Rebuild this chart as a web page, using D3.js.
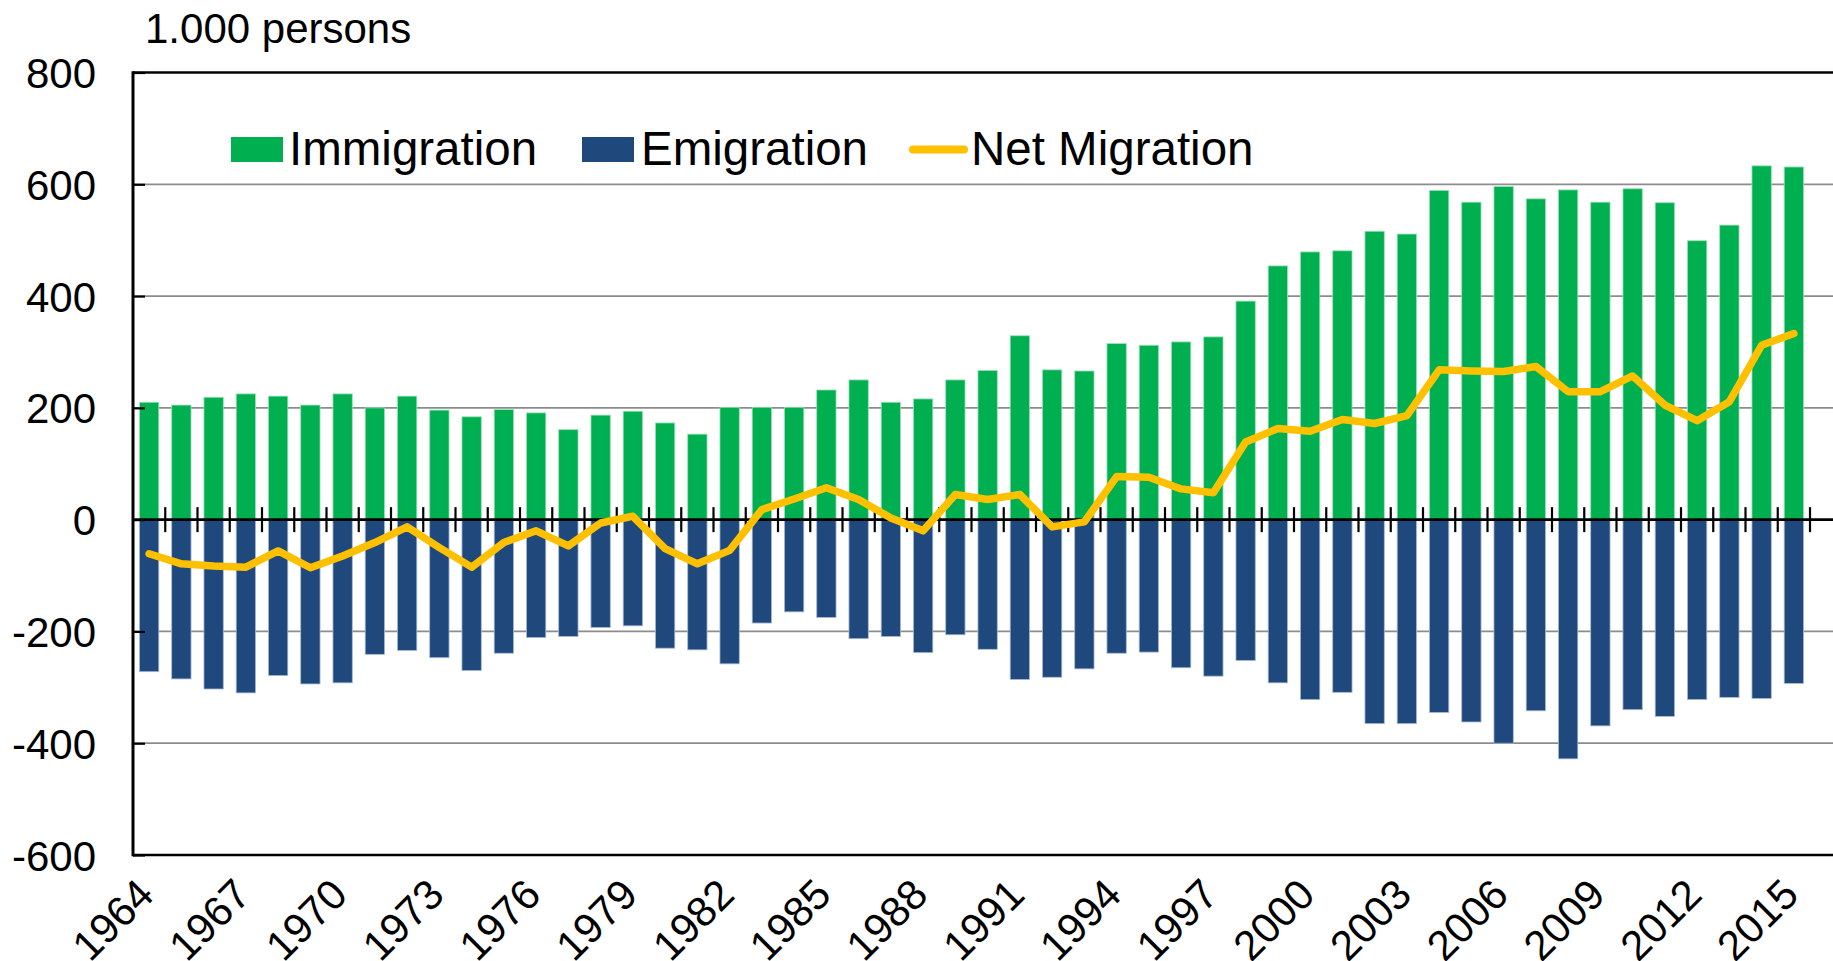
<!DOCTYPE html>
<html>
<head>
<meta charset="utf-8">
<script src="https://cdn.jsdelivr.net/npm/d3@7/dist/d3.min.js"></script>
<style>
body { margin: 0; background: #fff; }
text { font-family: "Liberation Sans", Arial, sans-serif; fill: #000; }
</style>
</head>
<body>
<div id="chart"></div>
<script>
var years = [1964,1965,1966,1967,1968,1969,1970,1971,1972,1973,1974,1975,1976,1977,1978,
  1979,1980,1981,1982,1983,1984,1985,1986,1987,1988,1989,1990,1991,1992,1993,1994,1995,1996,1997,
  1998,1999,2000,2001,2002,2003,2004,2005,2006,2007,2008,2009,2010,2011,2012,2013,2014,2015];

var immigration = [210,205,219,225,221,205,225,200,221,196,184,197,191,161,187,
  194,173,153,201,201,201,232,250,210,216,250,267,329,268,266,315,312,318,327,
  391,454,479,481,516,511,589,568,596,574,590,568,592,567,499,527,633,631];

var emigration = [-272,-285,-303,-310,-279,-294,-292,-241,-234,-247,-270,-239,-211,-209,-193,
  -190,-230,-233,-258,-185,-165,-175,-213,-209,-238,-206,-232,-286,-282,-267,-239,-237,-265,-280,
  -252,-292,-322,-309,-365,-365,-345,-362,-400,-342,-428,-369,-340,-352,-322,-318,-320,-293];

var netMigration = [-61,-79,-83,-85,-56,-86,-65,-41,-13,-50,-85,-41,-20,-47,-6,
  6,-52,-79,-55,18,37,57,36,3,-20,45,36,45,-13,-4,77,76,55,48,
  139,163,158,179,172,186,268,266,265,274,229,229,257,205,177,211,312,333];

var yTicks = [-600,-400,-200,0,200,400,600,800];
var xLabels = [1964,1967,1970,1973,1976,1979,1982,1985,1988,1991,1994,1997,2000,2003,2006,2009,2012,2015];

var W = 1833, H = 961;
var plotLeft = 133, plotRight = 1810, plotTop = 72.5, plotBottom = 855;

var svg = d3.select("#chart")
  .append("svg")
    .attr("width", W)
    .attr("height", H);

var x = d3.scaleBand()
  .domain(years)
  .range([plotLeft, plotRight])
  .paddingInner(0.4)
  .paddingOuter(0.2);

var y = d3.scaleLinear()
  .domain([-600, 800])
  .range([plotBottom, plotTop]);

// gridlines
svg.append("g")
  .selectAll("line")
  .data(yTicks.filter(function(d) { return d != 0 && d != 800 && d != -600; }))
  .enter().append("line")
    .attr("x1", plotLeft).attr("x2", W)
    .attr("y1", function(d) { return y(d); })
    .attr("y2", function(d) { return y(d); })
    .attr("stroke", "#8c8c8c")
    .attr("stroke-width", 1.7);

// bars
svg.append("g")
  .selectAll("rect")
  .data(years)
  .enter().append("rect")
    .attr("x", function(d) { return x(d); })
    .attr("width", x.bandwidth())
    .attr("y", function(d, i) { return y(immigration[i]); })
    .attr("height", function(d, i) { return y(0) - y(immigration[i]); })
    .attr("fill", "#00b050")
    .attr("stroke", "#9fe0bb")
    .attr("stroke-width", 0.8);

svg.append("g")
  .selectAll("rect")
  .data(years)
  .enter().append("rect")
    .attr("x", function(d) { return x(d); })
    .attr("width", x.bandwidth())
    .attr("y", y(0))
    .attr("height", function(d, i) { return y(emigration[i]) - y(0); })
    .attr("fill", "#1f497d")
    .attr("stroke", "#a9bad2")
    .attr("stroke-width", 0.8);

// frame: top & bottom border, zero line
svg.append("line")
  .attr("x1", plotLeft).attr("x2", W)
  .attr("y1", y(800)).attr("y2", y(800))
  .attr("stroke", "#000").attr("stroke-width", 2.4);
svg.append("line")
  .attr("x1", plotLeft).attr("x2", W)
  .attr("y1", y(-600)).attr("y2", y(-600))
  .attr("stroke", "#000").attr("stroke-width", 2.4);
svg.append("line")
  .attr("x1", plotLeft).attr("x2", W)
  .attr("y1", y(0)).attr("y2", y(0))
  .attr("stroke", "#000").attr("stroke-width", 2.6);

// cross ticks on zero line, one per category boundary
svg.append("g")
  .selectAll("line")
  .data(years)
  .enter().append("line")
    .attr("x1", function(d) { return x(d) + x.bandwidth() + (x.step() - x.bandwidth()) / 2; })
    .attr("x2", function(d) { return x(d) + x.bandwidth() + (x.step() - x.bandwidth()) / 2; })
    .attr("y1", y(0) - 12.5)
    .attr("y2", y(0) + 12.5)
    .attr("stroke", "#000")
    .attr("stroke-width", 2.2);

// y axis
var yAxis = svg.append("g")
  .attr("transform", "translate(" + plotLeft + ",0)")
  .call(d3.axisLeft(y).tickValues(yTicks).tickSize(-12).tickPadding(37)
    .tickFormat(function(d) { return String(d); }));
yAxis.select(".domain").remove();
yAxis.selectAll(".tick line").attr("stroke", "#000").attr("stroke-width", 2.2);
yAxis.selectAll("text")
  .style("font-family", "'Liberation Sans', Arial, sans-serif")
  .style("font-size", "42px")
  .attr("fill", "#000")
  .attr("dy", "0.36em");
svg.append("line")
  .attr("x1", plotLeft).attr("x2", plotLeft)
  .attr("y1", y(800) - 1.2).attr("y2", y(-600) + 1.2)
  .attr("stroke", "#000").attr("stroke-width", 3);

// x axis labels
var xAxis = svg.append("g")
  .attr("transform", "translate(0," + plotBottom + ")")
  .call(d3.axisBottom(x).tickValues(xLabels).tickSize(0));
xAxis.select(".domain").remove();
xAxis.selectAll("text")
  .style("font-family", "'Liberation Sans', Arial, sans-serif")
  .style("font-size", "42px")
  .attr("fill", "#000")
  .attr("y", 0).attr("dy", 0)
  .attr("text-anchor", "end")
  .attr("transform", "translate(7,42) rotate(-45)");

// net migration line
var line = d3.line()
  .x(function(d, i) { return x(years[i]) + x.bandwidth() / 2; })
  .y(function(d) { return y(d); });

svg.append("path")
  .datum(netMigration)
  .attr("d", line)
  .attr("fill", "none")
  .attr("stroke", "#ffc000")
  .attr("stroke-width", 7.5)
  .attr("stroke-linejoin", "round")
  .attr("stroke-linecap", "round");

// unit label
svg.append("text")
  .attr("x", 145).attr("y", 43)
  .style("font-size", "42px")
  .text("1.000 persons");

// legend
var lg = svg.append("g").style("font-size", "47.5px");
lg.append("rect").attr("x", 231).attr("y", 137).attr("width", 52).attr("height", 25).attr("fill", "#00b050");
lg.append("text").attr("x", 289).attr("y", 165).text("Immigration");
lg.append("rect").attr("x", 582).attr("y", 137).attr("width", 52).attr("height", 25).attr("fill", "#1f497d");
lg.append("text").attr("x", 641).attr("y", 165).text("Emigration");
lg.append("line").attr("x1", 913).attr("x2", 964).attr("y1", 149.5).attr("y2", 149.5)
  .attr("stroke", "#ffc000").attr("stroke-width", 8).attr("stroke-linecap", "round");
lg.append("text").attr("x", 971).attr("y", 165).text("Net Migration");
</script>
</body>
</html>
